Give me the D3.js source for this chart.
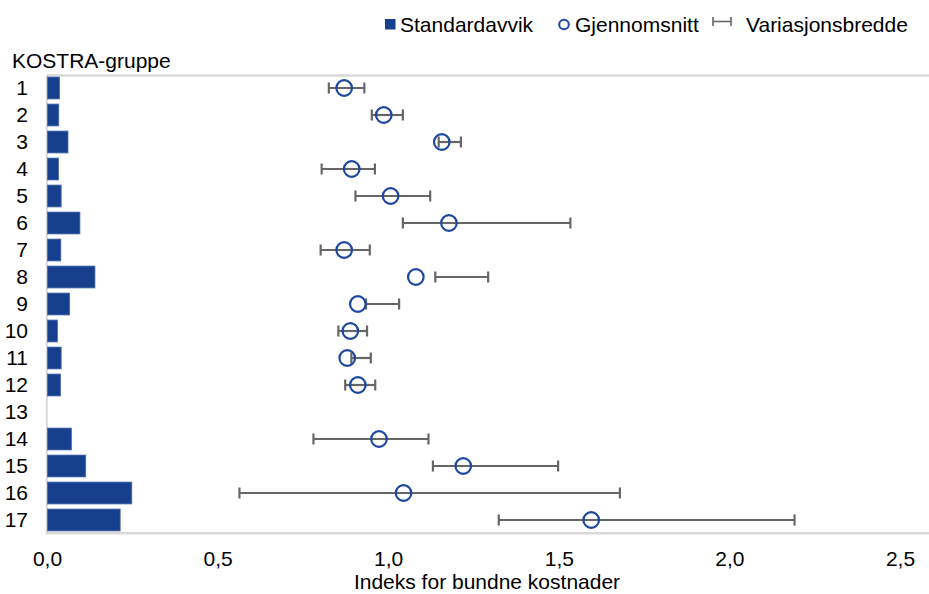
<!DOCTYPE html>
<html>
<head>
<meta charset="utf-8">
<script src="https://cdn.jsdelivr.net/npm/d3@7"></script>
<style>
  body { margin: 0; background: #fff; }
  svg { display: block; font-family: Arial, "Liberation Sans", sans-serif; }
  .tick text { font-size: 21px; fill: #000; }
</style>
</head>
<body>
<svg id="chart"></svg>
<script>
// KOSTRA-grupper 1-17, gruppe 13 har ingen verdier
var groups = ["1","2","3","4","5","6","7","8","9","10","11","12","13","14","15","16","17"];
var stdDev = [0.035,0.033,0.06,0.032,0.04,0.095,0.039,0.139,0.065,0.029,0.04,0.038,null,0.07,0.112,0.247,0.213];
var mean   = [0.871,0.987,1.157,0.893,1.007,1.178,0.871,1.081,0.911,0.889,0.880,0.911,null,0.973,1.220,1.045,1.595];
var rangeMin = [0.826,0.952,1.148,0.805,0.904,1.043,0.802,1.138,0.935,0.854,0.892,0.874,null,0.781,1.131,0.564,1.324];
var rangeMax = [0.930,1.043,1.213,0.961,1.123,1.534,0.946,1.293,1.032,0.938,0.949,0.962,null,1.118,1.498,1.679,2.191];
var xTicks = [0, 0.5, 1, 1.5, 2, 2.5];

var width = 929, height = 594;
var svg = d3.select("#chart").attr("width", width).attr("height", height);

var rows = groups.map(function(g, i) {
  return {g: g, sd: stdDev[i], mean: mean[i], min: rangeMin[i], max: rangeMax[i]};
});

var x = d3.scaleLinear().domain([0, 2.5]).range([47, 900]);
var y = d3.scaleBand().domain(groups).range([74.5, 533.5]).paddingInner(0.19).paddingOuter(0.095);

var nb = d3.formatLocale({decimal: ",", thousands: " ", grouping: [3], currency: ["", " kr"]});
var fmt = nb.format(".1f");

// plot frame lines (light grey)
svg.append("line").attr("x1", x(0)).attr("x2", width).attr("y1", 75.5).attr("y2", 75.5)
  .attr("stroke", "#d9d9d9").attr("stroke-width", 2.5);
svg.append("line").attr("x1", x(0)).attr("x2", width).attr("y1", 533.3).attr("y2", 533.3)
  .attr("stroke", "#d9d9d9").attr("stroke-width", 2.5);
svg.append("line").attr("x1", 46.8).attr("x2", 46.8).attr("y1", 74.5).attr("y2", 534.5)
  .attr("stroke", "#d9d9d9").attr("stroke-width", 2);

// bars = standardavvik
svg.selectAll("rect.bar")
  .data(rows.filter(function(d) { return d.sd != null; }))
  .enter().append("rect")
  .attr("class", "bar")
  .attr("x", x(0) + 0.5)
  .attr("y", function(d) { return y(d.g); })
  .attr("width", function(d) { return x(d.sd) - x(0); })
  .attr("height", y.bandwidth())
  .attr("fill", "#163f8d")
  .attr("stroke", "#4a69aa")
  .attr("stroke-width", 0.8);

// variasjonsbredde
var rng = svg.selectAll("g.range")
  .data(rows.filter(function(d) { return d.min != null; }))
  .enter().append("g")
  .attr("class", "range")
  .attr("transform", function(d) { return "translate(0," + (y(d.g) + y.bandwidth() / 2) + ")"; })
  .attr("stroke", "#666")
  .attr("stroke-width", 2.2);
rng.append("line").attr("x1", function(d) { return x(d.min); }).attr("x2", function(d) { return x(d.max); });
rng.append("line").attr("x1", function(d) { return x(d.min); }).attr("x2", function(d) { return x(d.min); }).attr("y1", -5.5).attr("y2", 5.5);
rng.append("line").attr("x1", function(d) { return x(d.max); }).attr("x2", function(d) { return x(d.max); }).attr("y1", -5.5).attr("y2", 5.5);

// gjennomsnitt
svg.selectAll("circle.mean")
  .data(rows.filter(function(d) { return d.mean != null; }))
  .enter().append("circle")
  .attr("class", "mean")
  .attr("cx", function(d) { return x(d.mean); })
  .attr("cy", function(d) { return y(d.g) + y.bandwidth() / 2; })
  .attr("r", 7.8)
  .attr("fill", "none")
  .attr("stroke", "#1d47a0")
  .attr("stroke-width", 2.2);

// axes
var xAxis = svg.append("g").attr("transform", "translate(0,533.5)")
  .call(d3.axisBottom(x).tickValues(xTicks).tickFormat(fmt).tickSize(0).tickPadding(17.5));
xAxis.select(".domain").remove();

var yAxis = svg.append("g").attr("transform", "translate(47,0)")
  .call(d3.axisLeft(y).tickSize(0).tickPadding(19));
yAxis.select(".domain").remove();

svg.append("text").attr("x", 12).attr("y", 68).attr("font-size", 21).text("KOSTRA-gruppe");
svg.append("text").attr("x", 487).attr("y", 589).attr("text-anchor", "middle").attr("font-size", 21)
  .text("Indeks for bundne kostnader");

// legend
var lg = svg.append("g").attr("font-size", 21);
lg.append("rect").attr("x", 385).attr("y", 19).attr("width", 10.5).attr("height", 10.5).attr("fill", "#163f8d");
lg.append("text").attr("x", 400).attr("y", 32).text("Standardavvik");
lg.append("circle").attr("cx", 564).attr("cy", 24.5).attr("r", 4.8).attr("fill", "none").attr("stroke", "#1d47a0").attr("stroke-width", 2);
lg.append("text").attr("x", 575).attr("y", 32).text("Gjennomsnitt");
var li = lg.append("g").attr("stroke", "#666").attr("stroke-width", 1.6);
li.append("line").attr("x1", 713).attr("x2", 731).attr("y1", 21.5).attr("y2", 21.5);
li.append("line").attr("x1", 713).attr("x2", 713).attr("y1", 17).attr("y2", 26);
li.append("line").attr("x1", 731).attr("x2", 731).attr("y1", 17).attr("y2", 26);
lg.append("text").attr("x", 746).attr("y", 32).text("Variasjonsbredde");
</script>
</body>
</html>
